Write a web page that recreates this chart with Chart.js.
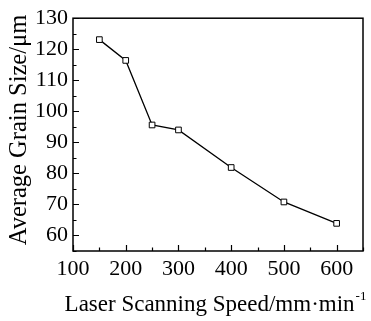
<!DOCTYPE html>
<html>
<head>
<meta charset="utf-8">
<script src="https://cdn.jsdelivr.net/npm/chart.js@4/dist/chart.umd.min.js"></script>
<style>
html,body{margin:0;padding:0;background:#fff;}
canvas{display:block;}
</style>
</head>
<body>
<canvas id="c" width="371" height="321"></canvas>
<script>
const speeds = [150, 200, 250, 300, 400, 500, 600];
const grainSizes = [123.1, 116.4, 95.6, 94.0, 81.9, 70.8, 63.9];
const xTickValues = [100, 200, 300, 400, 500, 600];
const yTickValues = [60, 70, 80, 90, 100, 110, 120, 130];
const xTitle = 'Laser Scanning Speed/mm\u00B7min';
const xTitleSup = '-1';
const yTitle = 'Average Grain Size/\u03BCm';

const FONT = '"Liberation Serif", "Times New Roman", serif';

const framePlugin = {
  id: 'framePlugin',
  afterDraw(chart) {
    const {ctx, chartArea: a, scales: {x, y}} = chart;
    ctx.save();
    ctx.strokeStyle = '#000';
    // inward ticks
    ctx.lineWidth = 1.2;
    ctx.beginPath();
    for (let v = x.min; v <= x.max; v += 50) {
      const p = Math.round(x.getPixelForValue(v)) + 0.5;
      const len = (v % 100 === 0) ? 6 : 3.5;
      ctx.moveTo(p, a.bottom);
      ctx.lineTo(p, a.bottom - len);
    }
    for (let v = y.min; v <= y.max; v += 5) {
      const p = Math.round(y.getPixelForValue(v)) + 0.5;
      const len = (v % 10 === 0) ? 6 : 3.5;
      ctx.moveTo(a.left, p);
      ctx.lineTo(a.left + len, p);
    }
    ctx.stroke();
    // frame
    ctx.lineWidth = 1.5;
    ctx.strokeRect(a.left, a.top, a.right - a.left, a.bottom - a.top);
    // x title with superscript
    ctx.fillStyle = '#000';
    ctx.font = '23px ' + FONT;
    ctx.textBaseline = 'alphabetic';
    const mainW = ctx.measureText(xTitle).width;
    ctx.font = '13px ' + FONT;
    const supW = ctx.measureText(xTitleSup).width;
    const cx = (a.left + a.right) / 2 - 3;
    const startX = cx - (mainW + supW) / 2;
    ctx.font = '23px ' + FONT;
    ctx.textAlign = 'left';
    ctx.fillText(xTitle, startX, 311);
    ctx.font = '13px ' + FONT;
    ctx.fillText(xTitleSup, startX + mainW + 1, 300);
    // y title
    ctx.translate(26, 130);
    ctx.rotate(-Math.PI / 2);
    ctx.font = '24.5px ' + FONT;
    ctx.textAlign = 'center';
    ctx.fillText(yTitle, 0, 0);
    ctx.restore();
  }
};

new Chart(document.getElementById('c'), {
  type: 'line',
  data: {
    datasets: [{
      data: speeds.map((s, i) => ({x: s, y: grainSizes[i]})),
      borderColor: '#000',
      borderWidth: 1.3,
      backgroundColor: '#fff',
      pointStyle: 'rect',
      pointRadius: 4,
      pointBorderWidth: 1,
      pointBackgroundColor: '#fff',
      pointBorderColor: '#000',
      tension: 0,
      fill: false
    }]
  },
  options: {
    responsive: false,
    animation: false,
    devicePixelRatio: 1,
    layout: {padding: {top: 16, right: 8, left: 0, bottom: 0}},
    plugins: {legend: {display: false}, tooltip: {enabled: false}},
    scales: {
      x: {
        type: 'linear',
        min: 100, max: 650,
        grid: {display: false, drawTicks: false},
        border: {display: false},
        afterBuildTicks: (s) => { s.ticks = xTickValues.map(v => ({value: v})); },
        afterFit: (s) => { s.height = 70; },
        ticks: {color: '#000', padding: 5, maxRotation: 0, autoSkip: false, font: {family: FONT, size: 22}}
      },
      y: {
        type: 'linear',
        min: 55, max: 130,
        grid: {display: false, drawTicks: false},
        border: {display: false},
        afterBuildTicks: (s) => { s.ticks = yTickValues.map(v => ({value: v})); },
        afterFit: (s) => { s.width = 73; },
        ticks: {color: '#000', padding: 5, autoSkip: false, font: {family: FONT, size: 22}}
      }
    }
  },
  plugins: [framePlugin]
});
</script>
</body>
</html>
